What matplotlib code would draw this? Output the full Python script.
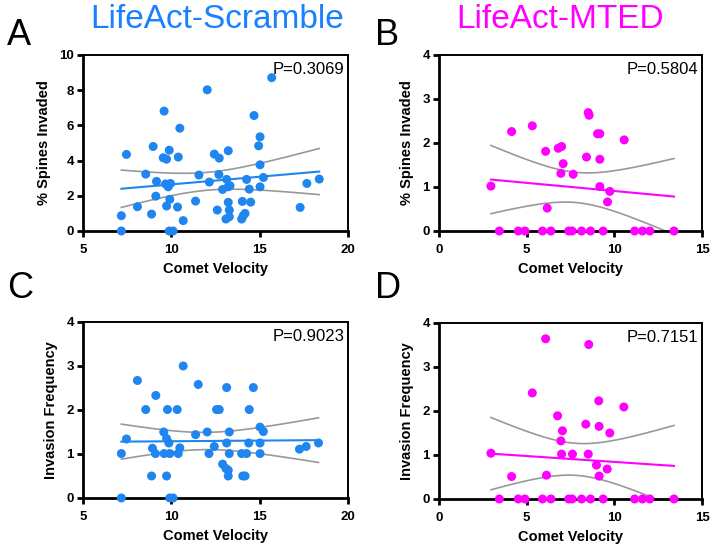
import matplotlib
import numpy as np

matplotlib.use("Agg")
import matplotlib.pyplot as plt  # noqa: E402

plt.rcParams["font.family"] = ["Liberation Sans", "DejaVu Sans"]

BLUE = "#1f86f0"
MAGENTA = "#ff00ff"
GREY = "#999999"

# Scramble: comet velocity vs % spines invaded (panel A)
scr_vel_a = [7.17, 7.17, 7.46, 8.08, 8.55, 8.88, 8.97, 9.12, 9.16, 9.59, 9.54, 9.73, 9.73, 9.67,
             9.82, 9.88, 9.95, 9.91, 9.88, 10.1, 10.35, 10.39, 10.48, 10.67, 11.37, 11.56, 12.03,
             12.15, 12.43, 12.60, 12.71, 12.69, 12.90, 13.22, 13.13, 13.22, 13.32, 13.22, 13.28,
             13.09, 13.28, 14.02, 14.07, 14.17, 13.98, 14.26, 14.41, 14.49, 14.68, 15.02, 14.94,
             15.02, 15.21, 15.02, 17.29, 17.67, 18.37, 15.68]
scr_inv_a = [0.87, 0.0, 4.35, 1.38, 3.23, 0.96, 4.80, 1.98, 2.82, 6.81, 4.16, 4.08, 1.42, 2.67,
             2.51, 4.59, 2.70, 1.80, 0.0, 0.0, 1.36, 4.20, 5.84, 0.59, 1.70, 3.18, 8.02,
             2.78, 4.37, 1.19, 4.14, 3.21, 2.36, 4.56, 2.93, 2.51, 2.57, 1.63, 1.19,
             0.68, 0.81, 1.68, 0.87, 1.00, 0.68, 2.93, 2.38, 1.64, 6.56, 5.35, 4.84,
             3.76, 3.04, 2.51, 1.34, 2.70, 2.95, 8.71]

# MTED: comet velocity vs % spines invaded (panel B)
mted_vel_b = [2.96, 3.44, 4.14, 4.52, 4.90, 5.32, 5.90, 6.08, 6.17, 6.38, 6.80, 6.99, 6.95, 7.08,
              7.40, 7.59, 7.65, 8.13, 8.41, 8.51, 8.56, 8.64, 9.04, 9.17, 9.17, 9.17, 9.36, 9.61,
              9.74, 10.56, 11.16, 11.60, 12.02, 13.40]
mted_inv_b = [1.02, 0.0, 2.26, 0.0, 0.0, 2.39, 0.0, 1.81, 0.52, 0.0, 1.88, 1.92, 1.31, 1.53,
              0.0, 0.0, 1.29, 0.0, 1.68, 2.69, 2.63, 0.0, 2.21, 2.21, 1.63, 1.01, 0.0, 0.66,
              0.90, 2.07, 0.0, 0.0, 0.0, 0.0]

# Scramble: comet velocity vs invasion frequency (panel C)
scr_vel_c = [7.17, 7.17, 7.46, 8.08, 8.55, 8.88, 8.93, 9.12, 9.10, 9.57, 9.59, 9.73, 9.78, 9.73,
             9.86, 9.91, 9.91, 10.10, 10.33, 10.39, 10.48, 10.67, 11.37, 11.52, 12.03, 12.13,
             12.43, 12.56, 12.71, 12.90, 13.13, 13.13, 13.09, 13.22, 13.22, 13.28, 13.28, 13.98,
             14.04, 14.17, 14.26, 14.38, 14.41, 14.64, 15.02, 15.21, 15.02, 15.02, 17.25, 17.63,
             18.33]
scr_freq_c = [1.01, 0.0, 1.34, 2.67, 2.01, 0.50, 1.13, 2.33, 1.01, 1.50, 1.01, 0.50, 2.01, 1.35,
              1.25, 1.01, 0.0, 0.0, 2.01, 1.01, 1.14, 3.00, 1.44, 2.58, 1.50, 1.01,
              1.17, 2.01, 2.01, 0.77, 2.51, 1.25, 0.67, 0.63, 0.50, 1.50, 1.01, 1.01,
              0.50, 0.50, 1.01, 1.25, 2.01, 2.51, 1.61, 1.51, 1.25, 1.01, 1.11, 1.17,
              1.25]

# MTED: comet velocity vs invasion frequency (panel D)
mted_vel_d = [2.96, 3.44, 4.14, 4.52, 4.90, 5.32, 5.90, 6.08, 6.13, 6.38, 6.76, 6.95, 7.04, 6.99,
              7.40, 7.59, 7.61, 8.13, 8.37, 8.51, 8.54, 8.64, 8.98, 9.11, 9.13, 9.13, 9.36, 9.59,
              9.74, 10.54, 11.16, 11.60, 12.02, 13.40]
mted_freq_d = [1.04, 0.0, 0.51, 0.0, 0.0, 2.41, 0.0, 3.64, 0.54, 0.0, 1.89, 1.32, 1.55, 1.02,
               0.0, 0.0, 1.02, 0.0, 1.70, 1.02, 3.51, 0.0, 0.77, 2.23, 1.65, 0.52, 0.0, 0.68,
               1.50, 2.09, 0.0, 0.0, 0.0, 0.0]

p_values = ["P=0.3069", "P=0.5804", "P=0.9023", "P=0.7151"]


def fit_with_band(x, y, t_crit):
    """Least-squares line with 95% confidence band of the mean."""
    x = np.asarray(x, dtype=float)
    y = np.asarray(y, dtype=float)
    slope, intercept = np.polyfit(x, y, 1)
    grid = np.linspace(x.min(), x.max(), 100)
    resid = y - (slope * x + intercept)
    s = np.sqrt(np.sum(resid ** 2) / (len(x) - 2))
    sxx = np.sum((x - x.mean()) ** 2)
    half = t_crit * s * np.sqrt(1 / len(x) + (grid - x.mean()) ** 2 / sxx)
    line = slope * grid + intercept
    return grid, line, line - half, line + half


def draw_panel(ax, x, y, color, xlim, xticks, ylim, yticks, ylabel, ptext):
    t_crit = 2.0 if len(x) > 40 else 2.04
    grid, line, lo, hi = fit_with_band(x, y, t_crit)
    ax.plot(grid, lo, color=GREY, lw=1.2, zorder=2)
    ax.plot(grid, hi, color=GREY, lw=1.2, zorder=2)
    ax.plot(grid, line, color=color, lw=1.5, zorder=2)
    ax.scatter(x, y, s=42, color=color, edgecolors="none", zorder=3, clip_on=False)
    ax.set_xlim(*xlim)
    ax.set_ylim(*ylim)
    ax.set_xticks(xticks)
    ax.set_yticks(yticks)
    for side in ax.spines.values():
        side.set_linewidth(1.4)
    ax.spines["left"].set_linewidth(2)
    ax.spines["bottom"].set_linewidth(2)
    ax.tick_params(direction="out", length=4, width=2, labelsize=9.5)
    ax.tick_params(axis="x", pad=5.5)
    ax.tick_params(axis="y", pad=2.5)
    for lab in ax.get_xticklabels() + ax.get_yticklabels():
        lab.set_fontweight("bold")
    ax.set_xlabel("Comet Velocity", fontsize=10.5, fontweight="bold", labelpad=4)
    ax.set_ylabel(ylabel, fontsize=10.5, fontweight="bold", labelpad=6)
    ax.text(0.985, 0.96, ptext, transform=ax.transAxes, ha="right", va="top", fontsize=12)


fig = plt.figure(figsize=(7.12, 5.47), dpi=100)
ax_a = fig.add_axes([0.1166, 0.5777, 0.3722, 0.3218])
ax_b = fig.add_axes([0.6166, 0.5777, 0.3694, 0.3218])
ax_c = fig.add_axes([0.1166, 0.0896, 0.3722, 0.3218])
ax_d = fig.add_axes([0.6166, 0.0878, 0.3694, 0.3218])

draw_panel(ax_a, scr_vel_a, scr_inv_a, BLUE, (5, 20), [5, 10, 15, 20], (0, 10),
           [0, 2, 4, 6, 8, 10], "% Spines Invaded", p_values[0])
draw_panel(ax_b, mted_vel_b, mted_inv_b, MAGENTA, (0, 15), [0, 5, 10, 15], (0, 4),
           [0, 1, 2, 3, 4], "% Spines Invaded", p_values[1])
draw_panel(ax_c, scr_vel_c, scr_freq_c, BLUE, (5, 20), [5, 10, 15, 20], (0, 4),
           [0, 1, 2, 3, 4], "Invasion Frequency", p_values[2])
draw_panel(ax_d, mted_vel_d, mted_freq_d, MAGENTA, (0, 15), [0, 5, 10, 15], (0, 4),
           [0, 1, 2, 3, 4], "Invasion Frequency", p_values[3])

fig.text(0.3055, 0.949, "LifeAct-Scramble", color="#1a80ff", fontsize=24, ha="center", va="baseline")
fig.text(0.787, 0.949, "LifeAct-MTED", color=MAGENTA, fontsize=24, ha="center", va="baseline")
for letter, xf, yf in [("A", 0.010, 0.918), ("B", 0.526, 0.918), ("C", 0.010, 0.455), ("D", 0.526, 0.455)]:
    fig.text(xf, yf, letter, fontsize=26, ha="left", va="baseline")

fig.savefig("out.png", dpi=100)
